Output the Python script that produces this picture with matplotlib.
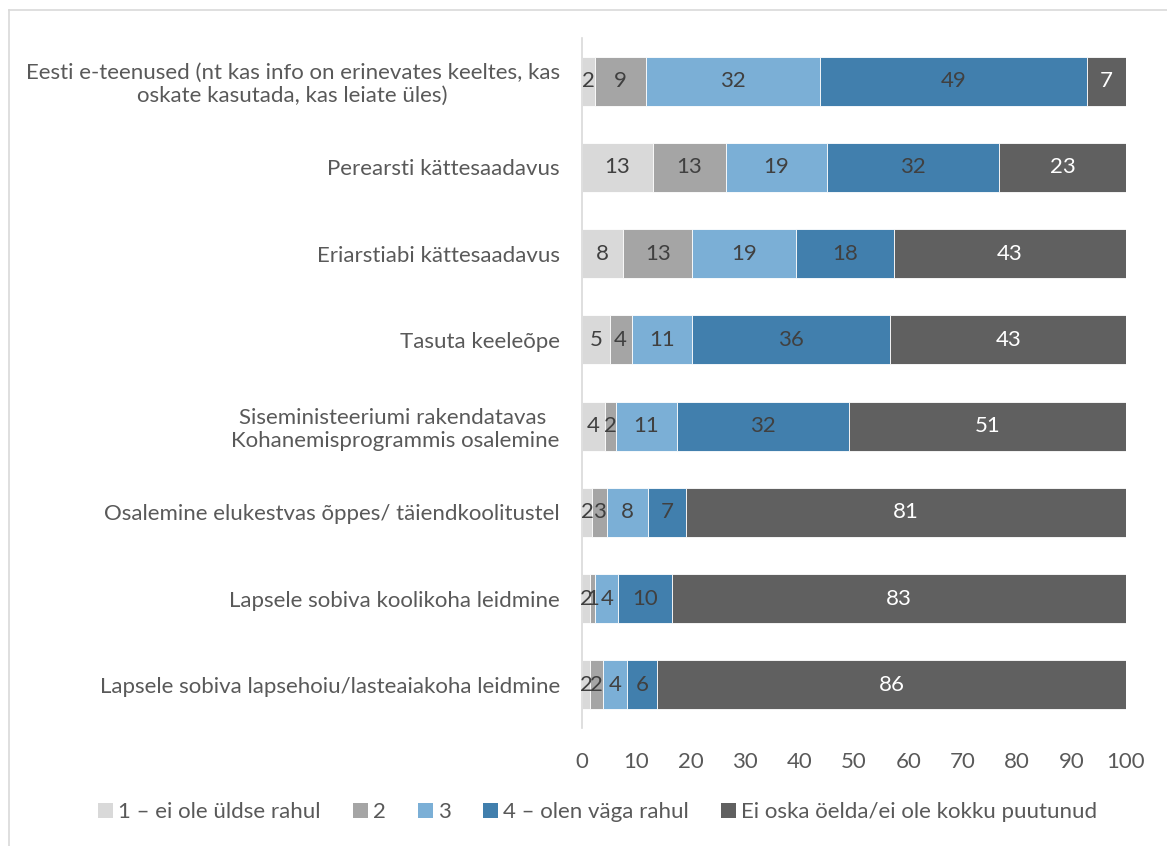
import matplotlib
matplotlib.use("Agg")
import matplotlib.pyplot as plt
from matplotlib.lines import Line2D
from matplotlib.patches import Patch

plt.rcParams["font.family"] = ["Lato", "DejaVu Sans"]

CATEGORIES = [
    "Eesti e-teenused (nt kas info on erinevates keeltes, kas\noskate kasutada, kas leiate üles)",
    "Perearsti kättesaadavus",
    "Eriarstiabi kättesaadavus",
    "Tasuta keeleõpe",
    "Siseministeeriumi rakendatavas \nKohanemisprogrammis osalemine",
    "Osalemine elukestvas õppes/ täiendkoolitustel",
    "Lapsele sobiva koolikoha leidmine",
    "Lapsele sobiva lapsehoiu/lasteaiakoha leidmine",
]

SERIES = [
    "1 – ei ole üldse rahul",
    "2",
    "3",
    "4 – olen väga rahul",
    "Ei oska öelda/ei ole kokku puutunud",
]

# shares in %, one list per answer option, in category order
s1 = [2.3, 13.0, 7.6, 5.1, 4.2, 1.9, 1.5, 1.5]
s2 = [9.4, 13.4, 12.6, 4.0, 2.0, 2.7, 0.9, 2.4]
s3 = [32.1, 18.7, 19.1, 11.2, 11.2, 7.6, 4.3, 4.3]
s4 = [49.1, 31.6, 18.1, 36.4, 31.6, 6.9, 9.9, 5.6]
s5 = [7.1, 23.3, 42.6, 43.3, 51.0, 80.9, 83.4, 86.2]
VALUES = [s1, s2, s3, s4, s5]

COLORS = ["#D9D9D9", "#A5A5A5", "#7BAFD6", "#417FAD", "#606060"]
TEXT_COLORS = ["#404040", "#404040", "#404040", "#404040", "white"]
FS = 16

fig = plt.figure(figsize=(11.67, 8.46), dpi=100)
ax = fig.add_axes([582 / 1167, 1 - 728 / 846, 544 / 1167, 690 / 846])

y = list(range(len(CATEGORIES)))
left = [0.0] * len(CATEGORIES)
for vals, col, tcol in zip(VALUES, COLORS, TEXT_COLORS):
    bars = ax.barh(y, vals, left=left, height=0.57, color=col,
                   edgecolor="white", linewidth=0.6)
    ax.bar_label(bars, labels=[f"{v:.0f}" for v in vals], label_type="center",
                 color=tcol, fontsize=FS)
    left = [a + b for a, b in zip(left, vals)]

ax.set_xlim(0, 100)
ax.set_ylim(len(CATEGORIES) - 0.5, -0.5)
ax.set_xticks(range(0, 101, 10))
ax.set_yticks(y)
ax.set_yticklabels(CATEGORIES, multialignment="center")
ax.tick_params(axis="x", length=0, pad=17, labelsize=FS, labelcolor="#595959")
ax.tick_params(axis="y", length=0, pad=16, labelsize=FS, labelcolor="#595959")
for side in ["top", "right", "bottom"]:
    ax.spines[side].set_visible(False)
ax.spines["left"].set_color("#D9D9D9")
ax.spines["left"].set_linewidth(1.2)

handles = [Patch(facecolor=c, edgecolor="none") for c in COLORS]
fig.legend(handles, SERIES, loc="center", ncol=5,
           bbox_to_anchor=(598 / 1167, 1 - 812 / 846), frameon=False,
           fontsize=FS, labelcolor="#595959", handlelength=0.65,
           handleheight=0.65, handletextpad=0.25, columnspacing=1.45)

# chart-area frame
frame = "#D9D9D9"
fig.add_artist(Line2D([9 / 1167, 9 / 1167], [0, 1 - 10 / 846],
                      transform=fig.transFigure, color=frame, linewidth=1.2))
fig.add_artist(Line2D([9 / 1167, 1], [1 - 10 / 846, 1 - 10 / 846],
                      transform=fig.transFigure, color=frame, linewidth=1.2))

fig.savefig("out.png", dpi=100)
